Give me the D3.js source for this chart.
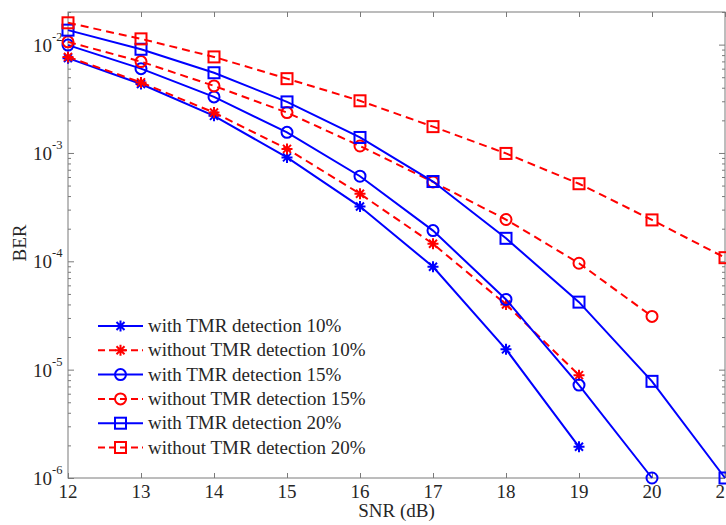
<!DOCTYPE html>
<html>
<head>
<meta charset="utf-8">
<script src="https://cdn.jsdelivr.net/npm/d3@7"></script>
<style>
body { margin: 0; background: #fff; }
text { font-family: "Liberation Serif", "Times New Roman", serif; fill: #262626; }
</style>
</head>
<body>
<script>
// ----- data -----
const snr = [12, 13, 14, 15, 16, 17, 18, 19, 20, 21];

const withTmr10    = [7.5e-3, 4.33e-3, 2.2e-3, 9.1e-4, 3.2e-4, 8.9e-5, 1.54e-5, 1.94e-6];
const withoutTmr10 = [7.7e-3, 4.48e-3, 2.36e-3, 1.09e-3, 4.2e-4, 1.45e-4, 4.0e-5, 8.9e-6];
const withTmr15    = [9.9e-3, 6.0e-3, 3.29e-3, 1.55e-3, 6.1e-4, 1.92e-4, 4.45e-5, 7.2e-6, 1.0e-6];
const withoutTmr15 = [1.06e-2, 6.97e-3, 4.16e-3, 2.36e-3, 1.16e-3, 5.4e-4, 2.43e-4, 9.6e-5, 3.1e-5];
const withTmr20    = [1.36e-2, 9.06e-3, 5.5e-3, 2.96e-3, 1.39e-3, 5.45e-4, 1.63e-4, 4.2e-5, 7.8e-6, 1.0e-6];
const withoutTmr20 = [1.59e-2, 1.13e-2, 7.7e-3, 4.85e-3, 3.03e-3, 1.75e-3, 9.9e-4, 5.2e-4, 2.41e-4, 1.08e-4];

const seriesNames = [
    "with TMR detection 10%",
    "without TMR detection 10%",
    "with TMR detection 15%",
    "without TMR detection 15%",
    "with TMR detection 20%",
    "without TMR detection 20%"
];

const xTicks = [12, 13, 14, 15, 16, 17, 18, 19, 20, 21];
const yExponents = [-6, -5, -4, -3, -2];

const width = 726, height = 525;
const plotLeft = 68, plotRight = 725, plotTop = 12, plotBottom = 478;
const fontSize = 19;

const blue = "#0000ff", red = "#ff0000";

// table for drawing, built from the arrays above
const series = [
    { name: seriesNames[0], values: withTmr10,    color: blue, dash: null,  marker: "star" },
    { name: seriesNames[1], values: withoutTmr10, color: red,  dash: "8,5", marker: "star" },
    { name: seriesNames[2], values: withTmr15,    color: blue, dash: null,  marker: "circle" },
    { name: seriesNames[3], values: withoutTmr15, color: red,  dash: "8,5", marker: "circle" },
    { name: seriesNames[4], values: withTmr20,    color: blue, dash: null,  marker: "square" },
    { name: seriesNames[5], values: withoutTmr20, color: red,  dash: "8,5", marker: "square" }
];

const svg = d3.select("body").append("svg")
    .attr("width", width)
    .attr("height", height);

// X Axis
const x = d3.scaleLinear().domain([12, 21]).range([plotLeft, plotRight]);
// Y Axis (log)
const y = d3.scaleLog().domain([1e-6, 2e-2]).range([plotBottom, plotTop]);

// minor log ticks
const minorTicks = [];
for (let e = -6; e <= -2; e++) {
    for (let m = 2; m <= 9; m++) {
        const v = m * Math.pow(10, e);
        if (v <= 2e-2) minorTicks.push(v);
    }
}
const majorTicks = yExponents.map(e => Math.pow(10, e));

const axisColor = "#7a7a7a";

function styleAxis(g) {
    g.select(".domain").remove();
    g.selectAll("line").attr("stroke", axisColor).attr("stroke-width", 1);
    g.selectAll("text").remove();
}

// bottom / top axes (ticks inward)
svg.append("g").attr("transform", "translate(0," + plotBottom + ")")
    .call(d3.axisBottom(x).tickValues(xTicks).tickSizeInner(-5).tickSizeOuter(0))
    .call(styleAxis);
svg.append("g").attr("transform", "translate(0," + plotTop + ")")
    .call(d3.axisTop(x).tickValues(xTicks).tickSizeInner(-5).tickSizeOuter(0))
    .call(styleAxis);

// left / right axes, major and minor
svg.append("g").attr("transform", "translate(" + plotLeft + ",0)")
    .call(d3.axisLeft(y).tickValues(majorTicks).tickSizeInner(-6).tickSizeOuter(0))
    .call(styleAxis);
svg.append("g").attr("transform", "translate(" + plotLeft + ",0)")
    .call(d3.axisLeft(y).tickValues(minorTicks).tickSizeInner(-3).tickSizeOuter(0))
    .call(styleAxis);
svg.append("g").attr("transform", "translate(" + plotRight + ",0)")
    .call(d3.axisRight(y).tickValues(majorTicks).tickSizeInner(-6).tickSizeOuter(0))
    .call(styleAxis);
svg.append("g").attr("transform", "translate(" + plotRight + ",0)")
    .call(d3.axisRight(y).tickValues(minorTicks).tickSizeInner(-3).tickSizeOuter(0))
    .call(styleAxis);

// frame
svg.append("rect")
    .attr("x", plotLeft).attr("y", plotTop)
    .attr("width", plotRight - plotLeft).attr("height", plotBottom - plotTop)
    .attr("fill", "none")
    .attr("stroke", axisColor)
    .attr("stroke-width", 1);

// x tick labels
svg.selectAll(".xLabel")
    .data(xTicks)
    .enter()
    .append("text")
    .attr("class", "xLabel")
    .attr("x", d => x(d))
    .attr("y", plotBottom + 20)
    .attr("text-anchor", "middle")
    .attr("font-size", fontSize)
    .text(d => d);

// y tick labels  10^e
svg.selectAll(".yLabel")
    .data(yExponents)
    .enter()
    .append("text")
    .attr("class", "yLabel")
    .attr("x", 52)
    .attr("y", d => y(Math.pow(10, d)) + 7)
    .attr("text-anchor", "end")
    .attr("font-size", fontSize)
    .text("10");
svg.selectAll(".yExp")
    .data(yExponents)
    .enter()
    .append("text")
    .attr("class", "yExp")
    .attr("x", 52)
    .attr("y", d => y(Math.pow(10, d)) - 4)
    .attr("font-size", 12.5)
    .text(d => "-" + Math.abs(d));

// axis titles
svg.append("text")
    .attr("x", (plotLeft + plotRight) / 2)
    .attr("y", 517)
    .attr("text-anchor", "middle")
    .attr("font-size", fontSize)
    .text("SNR (dB)");

svg.append("text")
    .attr("transform", "translate(26,243) rotate(-90)")
    .attr("text-anchor", "middle")
    .attr("font-size", fontSize)
    .text("BER");

// ----- markers -----
function drawMarker(g, type, cx, cy, color) {
    if (type === "circle") {
        g.append("circle")
            .attr("cx", cx).attr("cy", cy).attr("r", 5.5)
            .attr("fill", "none").attr("stroke", color).attr("stroke-width", 2);
    } else if (type === "square") {
        g.append("rect")
            .attr("x", cx - 5.5).attr("y", cy - 5.5)
            .attr("width", 11).attr("height", 11)
            .attr("fill", "none").attr("stroke", color).attr("stroke-width", 2);
    } else {
        const s = 5.5, d = 4;
        g.append("path")
            .attr("d", "M" + (cx - s) + "," + cy + "H" + (cx + s) +
                "M" + cx + "," + (cy - s) + "V" + (cy + s) +
                "M" + (cx - d) + "," + (cy - d) + "L" + (cx + d) + "," + (cy + d) +
                "M" + (cx - d) + "," + (cy + d) + "L" + (cx + d) + "," + (cy - d))
            .attr("fill", "none").attr("stroke", color).attr("stroke-width", 2);
    }
}

const line = d3.line()
    .x((d, i) => x(snr[i]))
    .y(d => y(d));

series.forEach(s => {
    const g = svg.append("g");
    g.append("path")
        .datum(s.values)
        .attr("d", line)
        .attr("fill", "none")
        .attr("stroke", s.color)
        .attr("stroke-width", 2)
        .attr("stroke-dasharray", s.dash);
    s.values.forEach((v, i) => drawMarker(g, s.marker, x(snr[i]), y(v), s.color));
});

// ----- legend -----
const legend = svg.append("g");
series.forEach((s, i) => {
    const ly = 326 + i * 24.3;
    legend.append("line")
        .attr("x1", 98).attr("x2", 143)
        .attr("y1", ly).attr("y2", ly)
        .attr("stroke", s.color)
        .attr("stroke-width", 2)
        .attr("stroke-dasharray", s.dash ? "7,4" : null);
    drawMarker(legend, s.marker, 120.5, ly, s.color);
    legend.append("text")
        .attr("x", 148)
        .attr("y", ly + 6)
        .attr("font-size", fontSize)
        .text(s.name);
});
</script>
</body>
</html>
